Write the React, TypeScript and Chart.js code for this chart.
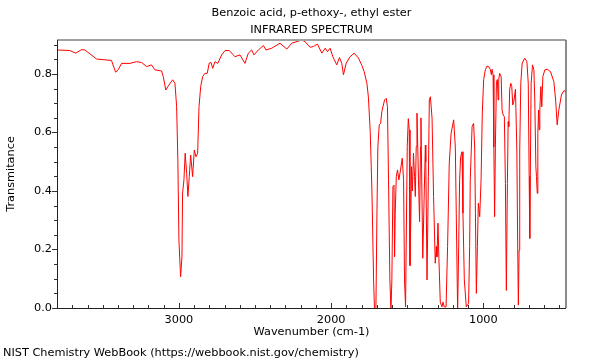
import React, { useEffect, useRef } from 'react';
import { Chart, registerables } from 'chart.js';

Chart.register(...registerables);

// Wavenumber (cm-1), descending
const wavenumbers = [
  3801, 3717, 3678, 3640, 3618, 3541, 3443, 3416, 3399, 3377, 3322, 3278, 3245, 3212, 3180,
  3158, 3114, 3103, 3086, 3070, 3041, 3026, 3015, 3007, 3000, 2989, 2980, 2976, 2967, 2959,
  2949, 2941, 2932, 2923, 2910, 2899, 2888, 2877, 2868, 2857, 2844, 2829, 2814, 2801, 2789,
  2778, 2763, 2745, 2719, 2697, 2669, 2632, 2599, 2566, 2544, 2522, 2507, 2478, 2445, 2428,
  2390, 2336, 2291, 2259, 2193, 2171, 2138, 2116, 2090, 2061, 2039, 2024, 2007, 1989, 1963,
  1945, 1930, 1919, 1901, 1875, 1849, 1820, 1798, 1783, 1765, 1755, 1743, 1732, 1721, 1715,
  1706, 1699, 1693, 1684, 1675, 1667, 1649, 1638, 1630, 1623, 1614, 1607, 1601, 1594, 1587,
  1583, 1579, 1572, 1564, 1555, 1544, 1533, 1524, 1518, 1511, 1507, 1500, 1493, 1487, 1482,
  1476, 1472, 1466, 1459, 1452, 1447, 1441, 1436, 1426, 1419, 1413, 1410, 1398, 1388, 1381,
  1378, 1370, 1361, 1355, 1348, 1337, 1327, 1316, 1309, 1305, 1298, 1292, 1283, 1272, 1265,
  1257, 1245, 1235, 1224, 1212, 1195, 1184, 1178, 1169, 1162, 1156, 1149, 1140, 1134, 1125,
  1112, 1097, 1090, 1086, 1074, 1064, 1057, 1052, 1046, 1039, 1033, 1024, 1015, 1007, 998,
  987, 976, 965, 954, 947, 943, 936, 931, 926, 921, 914, 908, 903, 899, 893,
  883, 877, 870, 862, 855, 849, 842, 837, 833, 827, 820, 813, 807, 800, 789,
  780, 774, 770, 765, 761, 754, 745, 728, 714, 705, 699, 695, 690, 686, 677,
  668, 662, 655, 651, 646, 642, 637, 633, 629, 622, 616, 609, 596, 580, 559,
  537, 525, 515, 504, 487, 471, 457,
];

// Transmittance
const transmittance = [
  0.882, 0.880, 0.871, 0.883, 0.882, 0.851, 0.846, 0.806, 0.814, 0.836, 0.836, 0.842, 0.839, 0.825, 0.831,
  0.814, 0.810, 0.791, 0.745, 0.759, 0.780, 0.768, 0.688, 0.506, 0.232, 0.107, 0.175, 0.393, 0.438, 0.529,
  0.460, 0.381, 0.449, 0.523, 0.449, 0.540, 0.517, 0.529, 0.688, 0.757, 0.791, 0.802, 0.802, 0.837, 0.839,
  0.819, 0.842, 0.836, 0.865, 0.880, 0.880, 0.859, 0.865, 0.836, 0.871, 0.882, 0.865, 0.882, 0.897, 0.882,
  0.888, 0.905, 0.885, 0.905, 0.916, 0.910, 0.891, 0.894, 0.902, 0.871, 0.888, 0.876, 0.888, 0.859, 0.831,
  0.856, 0.836, 0.797, 0.837, 0.859, 0.871, 0.854, 0.829, 0.808, 0.768, 0.720, 0.600, 0.400, 0.096, -0.01,
  -0.01, 0.325, 0.552, 0.626, 0.631, 0.671, 0.711, 0.717, 0.688, 0.438, 0.096, -0.01, 0.096, 0.415, 0.420,
  0.175, 0.324, 0.449, 0.472, 0.438, 0.472, 0.512, 0.438, 0.096, 0.004, 0.210, 0.552, 0.647, 0.609, 0.145,
  0.324, 0.483, 0.400, 0.529, 0.449, 0.381, 0.552, 0.666, 0.438, 0.295, 0.550, 0.650, 0.170, 0.400, 0.557,
  0.500, 0.096, 0.450, 0.711, 0.722, 0.649, 0.381, 0.153, 0.210, 0.175, 0.290, 0.170, 0.020, 0.004, 0.020,
  0.004, 0.004, 0.210, 0.495, 0.597, 0.643, 0.550, 0.324, -0.01, 0.210, 0.438, 0.517, 0.534, 0.324, 0.096,
  0.004, 0.016, 0.210, 0.438, 0.620, 0.631, 0.550, 0.324, 0.050, 0.210, 0.358, 0.312, 0.438, 0.666, 0.780,
  0.814, 0.827, 0.825, 0.815, 0.797, 0.816, 0.797, 0.550, 0.312, 0.550, 0.774, 0.781, 0.711, 0.780, 0.802,
  0.791, 0.677, 0.660, 0.654, 0.426, 0.060, 0.426, 0.637, 0.620, 0.745, 0.768, 0.757, 0.694, 0.705, 0.748,
  0.540, 0.198, 0.010, 0.198, 0.540, 0.768, 0.837, 0.854, 0.842, 0.768, 0.450, 0.238, 0.540, 0.768, 0.831,
  0.814, 0.711, 0.483, 0.449, 0.392, 0.597, 0.677, 0.609, 0.679, 0.757, 0.688, 0.791, 0.814, 0.816, 0.808,
  0.774, 0.711, 0.626, 0.677, 0.728, 0.743, 0.740,
];

const xRange = [457, 3801];
const yRange = [0, 0.916];
const xTickValues = [3000, 2000, 1000];
const yTickValues = [0, 0.2, 0.4, 0.6, 0.8];
const titleLines = ['Benzoic acid, p-ethoxy-, ethyl ester', 'INFRARED SPECTRUM'];
const xAxisTitle = 'Wavenumber (cm-1)';
const yAxisTitle = 'Transmitance';
const footerText = 'NIST Chemistry WebBook (https://webbook.nist.gov/chemistry)';

const FONT = '"DejaVu Sans", sans-serif';
const FS = 11.3;

const decorPlugin = {
  id: 'decor',
  afterDraw(chart: any) {
    const { ctx, chartArea: a, scales } = chart;
    const xs = scales.x;
    const ys = scales.y;
    ctx.save();
    // x minor/major ticks (inward)
    ctx.strokeStyle = '#333';
    ctx.lineWidth = 1;
    for (let v = 500; v <= 3800; v += 100) {
      const px = Math.round(xs.getPixelForValue(v)) + 0.5;
      const len = v % 1000 === 0 ? 5 : 3;
      ctx.beginPath();
      ctx.moveTo(px, a.bottom);
      ctx.lineTo(px, a.bottom - len);
      ctx.stroke();
    }
    // y minor/major ticks (outward)
    for (let i = 0; i <= 18; i++) {
      const v = i * 0.05;
      const py = Math.round(ys.getPixelForValue(v)) + 0.5;
      const len = i % 4 === 0 ? 5 : 3;
      ctx.beginPath();
      ctx.moveTo(a.left, py);
      ctx.lineTo(a.left - len, py);
      ctx.stroke();
    }
    // frame
    ctx.strokeStyle = '#a0a0a0';
    ctx.lineWidth = 2;
    ctx.beginPath();
    ctx.moveTo(a.left, a.top);
    ctx.lineTo(a.right, a.top);
    ctx.stroke();
    ctx.strokeStyle = '#666';
    ctx.lineWidth = 1.5;
    ctx.beginPath();
    ctx.moveTo(a.right, a.top);
    ctx.lineTo(a.right, a.bottom);
    ctx.stroke();
    ctx.strokeStyle = '#222';
    ctx.lineWidth = 1;
    ctx.beginPath();
    ctx.moveTo(Math.round(a.left) + 0.5, a.top);
    ctx.lineTo(Math.round(a.left) + 0.5, a.bottom);
    ctx.moveTo(a.left, Math.round(a.bottom) + 0.5);
    ctx.lineTo(a.right, Math.round(a.bottom) + 0.5);
    ctx.stroke();

    // texts
    ctx.fillStyle = '#000';
    ctx.font = `${FS}px ${FONT}`;
    ctx.textBaseline = 'middle';
    ctx.textAlign = 'center';
    const cx = (a.left + a.right) / 2;
    ctx.fillText(titleLines[0], cx, 13);
    ctx.fillText(titleLines[1], cx, 30);
    ctx.fillText(xAxisTitle, cx, 332);
    ctx.textAlign = 'left';
    ctx.fillText(footerText, 3, 353);
    ctx.save();
    ctx.translate(11, (a.top + a.bottom) / 2);
    ctx.rotate(-Math.PI / 2);
    ctx.textAlign = 'center';
    ctx.fillText(yAxisTitle, 0, 0);
    ctx.restore();
    ctx.restore();
  },
};

export default function App() {
  const canvasRef = useRef<HTMLCanvasElement | null>(null);

  useEffect(() => {
    const canvas = canvasRef.current;
    if (!canvas) return;
    const points = wavenumbers.map((w, i) => ({ x: w, y: transmittance[i] }));
    const chart = new Chart(canvas, {
      type: 'line',
      data: {
        datasets: [
          {
            data: points,
            borderColor: 'rgb(255,0,0)',
            borderWidth: 1,
            pointRadius: 0,
            tension: 0,
            fill: false,
          },
        ],
      },
      options: {
        animation: false,
        responsive: false,
        devicePixelRatio: 1,
        layout: { padding: { top: 40, right: 34, left: 0, bottom: 0 } },
        plugins: {
          legend: { display: false },
          tooltip: { enabled: false },
          title: { display: false },
        },
        scales: {
          x: {
            type: 'linear',
            reverse: true,
            min: xRange[0],
            max: xRange[1],
            grid: { display: false, drawTicks: false },
            border: { display: false },
            ticks: {
              font: { family: FONT, size: FS },
              color: '#000',
              padding: 5,
              maxRotation: 0,
              callback: (v: any) => String(v),
            },
            afterBuildTicks: (s: any) => {
              s.ticks = xTickValues.map((v) => ({ value: v }));
            },
            afterFit: (s: any) => {
              s.height = 52;
            },
          },
          y: {
            type: 'linear',
            min: yRange[0],
            max: yRange[1],
            grid: { display: false, drawTicks: false },
            border: { display: false },
            ticks: {
              font: { family: FONT, size: FS },
              color: '#000',
              padding: 5,
              callback: (v: any) => Number(v).toFixed(1),
            },
            afterBuildTicks: (s: any) => {
              s.ticks = yTickValues.map((v) => ({ value: v }));
            },
            afterFit: (s: any) => {
              s.width = 57;
            },
          },
        },
      },
      plugins: [decorPlugin],
    });
    return () => chart.destroy();
  }, []);

  return (
    <div style={{ position: 'fixed', left: 0, top: 0, width: 600, height: 360, background: '#fff' }}>
      <canvas ref={canvasRef} width={600} height={360} style={{ width: 600, height: 360, display: 'block' }} />
    </div>
  );
}
